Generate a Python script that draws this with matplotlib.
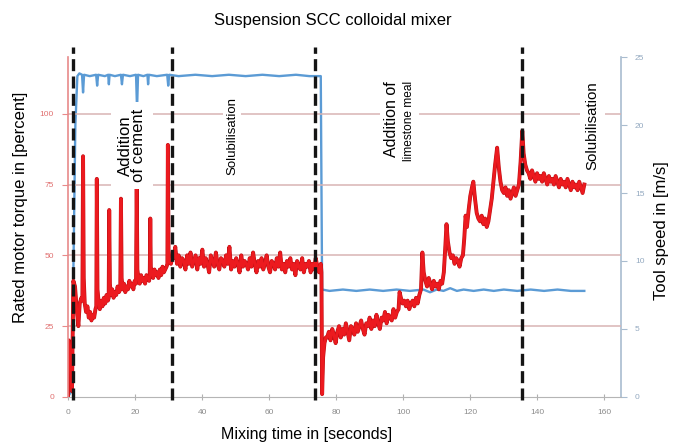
import matplotlib
matplotlib.use("Agg")
from matplotlib import pyplot as plt
import matplotlib.patheffects as pe
import numpy as np

plt.rcParams['font.family'] = ['Liberation Sans', 'DejaVu Sans']

# ---- data ----
# torque [%], cement addition phase (explicit samples)
cement_t = [0.0, 0.2, 0.7, 1.2, 1.6, 2.1, 2.6, 3.1, 3.5, 4.0, 4.3, 4.5, 4.7, 5.0, 5.4, 5.8, 6.2, 6.6, 7.0, 7.4,
            7.8, 8.2, 8.45, 8.6, 8.8, 9.1, 9.5, 9.9, 10.3, 10.7, 11.1, 11.5, 11.9, 12.15, 12.3, 12.5, 12.8, 13.2, 13.6, 14.0,
            14.4, 14.8, 15.2, 15.6, 15.8, 16.0, 16.3, 16.7, 17.1, 17.5, 17.9, 18.3, 18.7, 19.1, 19.5, 19.9, 20.3, 20.5, 20.7, 21.0,
            21.4, 21.8, 22.2, 22.6, 23.0, 23.4, 23.8, 24.2, 24.4, 24.55, 24.7, 25.0, 25.4, 25.8, 26.2, 26.6, 27.0, 27.4, 27.8, 28.2,
            28.6, 29.0, 29.4, 29.65, 29.8, 30.0, 30.3, 30.7, 31.1]
cement_v = [0, 20, 17, 2, 41, 39, 31, 25, 33, 35, 34, 85, 42, 33, 30, 32, 28, 30, 27, 29,
            28, 31, 32, 77, 38, 34, 31, 34, 32, 35, 33, 36, 34, 35, 66, 40, 36, 38, 35, 37,
            36, 39, 37, 38, 70, 42, 38, 40, 37, 39, 38, 41, 39, 40, 38, 41, 40, 76, 45, 42,
            40, 43, 41, 42, 40, 43, 42, 41, 43, 63, 46, 44, 42, 45, 43, 44, 42, 45, 43, 46,
            44, 45, 46, 47, 89, 52, 48, 47, 49]

# first solubilisation plateau, sampled evenly between these times
solub1_span = (31.5, 75.4)
solub1_v = [49, 53, 47, 50, 46, 49, 48, 45, 50, 47, 51, 46, 48, 50, 45, 49, 47, 52, 46, 49, 47, 44, 50, 48, 46,
            51, 47, 45, 49, 48, 46, 50, 47, 53, 45, 48, 46, 49, 47, 44, 50, 46, 48, 47, 45, 49, 46, 51, 47, 44,
            48, 46, 49, 45, 47, 50, 46, 44, 48, 47, 45, 49, 46, 51, 45, 47, 44, 48, 46, 49, 45, 47, 43, 48, 46,
            45, 49, 44, 47, 46, 48, 44, 47, 45, 49, 46, 44, 47]

# speed change dip
drop_t = [75.6, 75.8, 76.1, 76.5, 76.9]
drop_v = [44, 1, 14, 19, 21]

# start of limestone addition, sampled evenly
lime1_span = (77.3, 98.6)
lime1_v = [21, 23, 20, 24, 22, 19, 23, 25, 21, 24, 22, 26, 23, 20, 25, 24, 22, 26, 23, 25, 27, 24,
           22, 26, 25, 28, 24, 27, 25, 29, 26, 24, 28, 27, 30, 26, 29, 28, 27, 31, 28, 30, 31]

# limestone steps (explicit samples)
lime2_t = [98.9, 99.3, 99.8, 100.3, 100.8, 101.3, 101.8, 102.3, 102.8, 103.3, 103.8, 104.3, 104.8, 105.3, 105.7, 106.1,
           106.6, 107.1, 107.6, 108.1, 108.6, 109.1, 109.6, 110.1, 110.6, 111.1, 111.6, 112.1, 112.5, 112.9, 113.3, 113.8,
           114.3, 114.8, 115.3, 115.8, 116.3, 116.8, 117.3, 117.8, 118.2, 118.6, 119.0, 119.5, 120.0, 120.5, 120.9, 121.4,
           121.9, 122.4, 122.9, 123.4, 123.9, 124.4, 124.9, 125.4, 125.9, 126.4, 126.9, 127.4, 128.0, 128.5, 129.0, 129.5,
           130.0, 130.5, 131.0, 131.5, 132.0, 132.5, 133.0, 133.5, 134.0, 134.5, 135.0, 135.5, 135.9, 136.4, 136.9]
lime2_v = [37, 35, 33, 34, 32, 34, 31, 33, 34, 32, 35, 33, 36, 38, 51, 44,
           41, 39, 42, 40, 38, 41, 39, 40, 38, 41, 40, 44, 52, 61, 55, 51,
           49, 50, 47, 49, 48, 46, 49, 50, 56, 64, 60, 66, 71, 74, 76, 70,
           65, 63, 62, 64, 61, 63, 60, 62, 66, 70, 76, 82, 88, 81, 76, 73,
           72, 74, 71, 73, 70, 72, 74, 71, 73, 75, 83, 94, 86, 82, 80]

# second solubilisation, sampled evenly
solub2_span = (137.4, 154.0)
solub2_v = [79, 77, 80, 78, 76, 79, 77, 78, 76, 79, 77, 75, 78, 76, 77, 75, 78, 76, 74, 77, 75, 76, 74, 77,
            75, 73, 76, 74, 75, 73, 76, 74, 72, 75]

# tool speed [m/s]
speed_t = [0, 1.2, 1.6, 2.2, 2.8, 3.4, 4.2, 4.5, 4.8, 6.5, 8.4, 8.7, 9.0, 11.0, 12.0, 12.2, 12.4, 14.0, 15.8, 16.1,
           16.4, 18.5, 20.3, 20.6, 20.9, 22.5, 23.7, 23.9, 24.1, 26.5, 29.6, 29.9, 30.2, 33, 38, 43, 48, 53, 58, 63,
           68, 72, 75.4, 75.8, 78, 82, 86, 90, 94, 98, 102, 106, 108, 110, 112, 114, 116, 118, 121, 124,
           127, 130, 134, 138, 142, 146, 150, 154]
speed_v = [0, 0.5, 9, 20, 23.6, 23.8, 23.7, 22.4, 23.7, 23.6, 23.7, 22.9, 23.7, 23.6, 23.7, 23.0, 23.7, 23.6, 23.7, 23.0,
           23.7, 23.6, 23.7, 21.2, 23.7, 23.6, 23.7, 23.0, 23.7, 23.6, 23.7, 22.9, 23.7, 23.6, 23.7, 23.6, 23.7, 23.6, 23.7, 23.6,
           23.7, 23.6, 23.6, 7.9, 7.8, 7.9, 7.8, 7.9, 7.8, 7.9, 7.8, 7.9, 7.7, 7.9, 7.8, 8.0, 7.8, 7.9, 7.8, 7.9,
           7.8, 7.9, 7.8, 7.9, 7.8, 7.9, 7.8, 7.8]

phase_lines = [1.4, 31.0, 73.7, 135.5]
torque_ticks = [0, 25, 50, 75, 100]
speed_ticks = [0, 5, 10, 15, 20, 25]
time_ticks = [0, 20, 40, 60, 80, 100, 120, 140, 160]


def even(span, vals):
    return list(np.linspace(span[0], span[1], len(vals)))


torque_t = (cement_t + even(solub1_span, solub1_v) + drop_t + even(lime1_span, lime1_v)
            + lime2_t + even(solub2_span, solub2_v))
torque_v = cement_v + solub1_v + drop_v + lime1_v + lime2_v + solub2_v

# ---- plot ----
fig = plt.figure(figsize=(6.73, 4.46), dpi=100)
ax = fig.add_subplot(111)
fig.subplots_adjust(left=0.101, right=0.923, bottom=0.110, top=0.872)
ax2 = ax.twinx()
ax.set_zorder(ax2.get_zorder() + 1)
ax.patch.set_visible(False)

ax2.plot(speed_t, speed_v, color='#5b9bd5', linewidth=1.7)
ax.plot(torque_t, torque_v, color='#ec1a1f', linewidth=2.0,
        path_effects=[pe.Stroke(linewidth=2.8, foreground='#c01015'), pe.Normal()])

for t in phase_lines:
    ax.axvline(t, ymin=-0.01, ymax=1.03, color='#151515', linewidth=2.4,
               linestyle=(0, (3.6, 1.6)), clip_on=False, zorder=5)

ax.set_xlim(0, 165)
ax.set_ylim(0, 120)
ax2.set_ylim(0, 25)
ax2.set_xlim(0, 165)

# grid
for v in torque_ticks[1:]:
    ax.axhline(v, color='#d8b4b4', linewidth=1.1, zorder=0)

# spines
for a in (ax, ax2):
    a.spines['top'].set_visible(False)
ax.spines['right'].set_visible(False)
ax2.spines['left'].set_visible(False)
ax2.spines['bottom'].set_visible(False)
ax.spines['left'].set_color('#e88a8a')
ax.spines['left'].set_linewidth(1.2)
ax.spines['bottom'].set_color('#b5b5b5')
ax2.spines['right'].set_color('#a9bccf')
ax2.spines['right'].set_linewidth(1.2)

ax.set_xticks(time_ticks)
ax.set_yticks(torque_ticks)
ax2.set_yticks(speed_ticks)
ax.tick_params(axis='x', direction='inout', length=4, colors='#b0b0b0', labelcolor='#8c8c8c',
               labelsize=6, pad=7)
ax.tick_params(axis='y', direction='out', length=4, colors='#e88a8a', labelcolor='#e07070',
               labelsize=6, pad=6)
ax2.tick_params(axis='y', direction='out', length=4, colors='#a9bccf', labelcolor='#93a9c0',
                labelsize=6, pad=6)

# phase annotations
box = dict(facecolor='white', edgecolor='none', pad=3)
ax.text(19.1, 88.8, 'Addition\nof cement', rotation=90, ha='center', va='center',
        fontsize=12, linespacing=0.85, bbox=dict(facecolor='white', edgecolor='none', pad=5), zorder=6)
ax.text(49.0, 92.0, 'Solubilisation', rotation=90, ha='center', va='center',
        fontsize=9.5, bbox=dict(facecolor='white', edgecolor='none', pad=2), zorder=6)
ax.text(96.6, 98.2, 'Addition of', rotation=90, ha='center', va='center',
        fontsize=11.5, bbox=box, zorder=6)
ax.text(101.6, 97.5, 'limestone meal', rotation=90, ha='center', va='center',
        fontsize=8.6, bbox=box, zorder=6)
ax.text(156.5, 95.8, 'Solubilisation', rotation=90, ha='center', va='center',
        fontsize=10.8, bbox=dict(facecolor='white', edgecolor='none', pad=4), zorder=6)

# titles and labels
fig.text(0.495, 0.955, 'Suspension SCC colloidal mixer', ha='center', va='center', fontsize=12)
fig.text(0.455, 0.025, 'Mixing time in [seconds]', ha='center', va='center', fontsize=11.5)
fig.text(0.030, 0.536, 'Rated motor torque in [percent]', rotation=90, ha='center', va='center', fontsize=12)
fig.text(0.983, 0.484, 'Tool speed in [m/s]', rotation=90, ha='center', va='center', fontsize=12)

fig.savefig('out.png', dpi=100)
